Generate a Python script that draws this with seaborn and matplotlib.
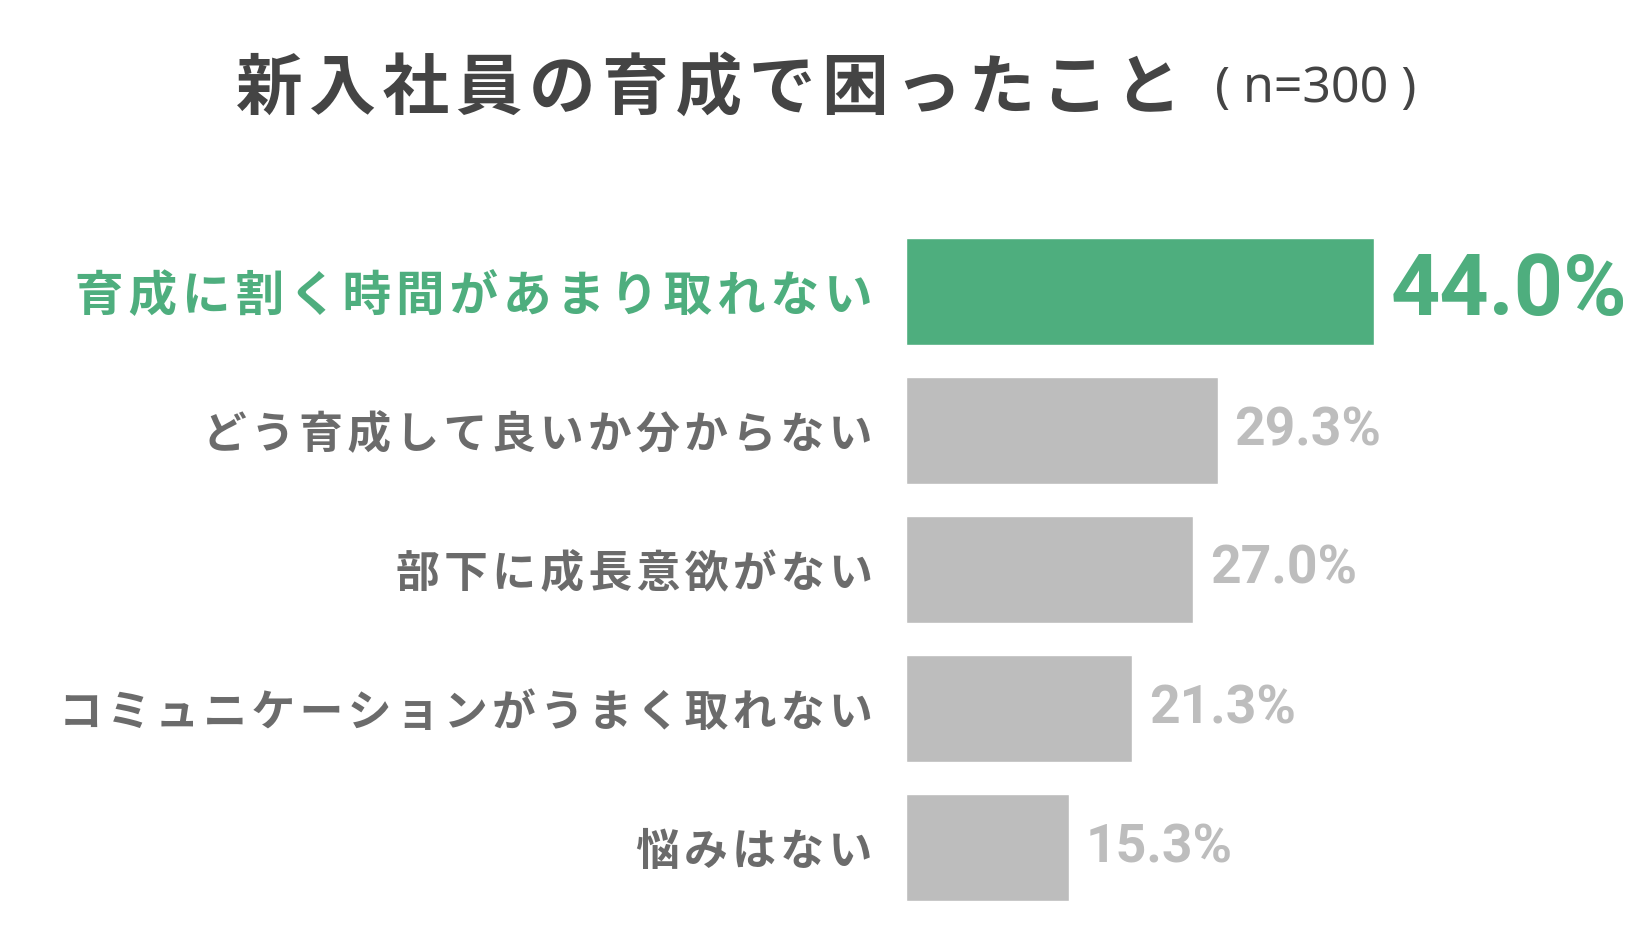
import matplotlib.pyplot as plt
import seaborn as sns
import pandas as pd

# data
categories = [
    "育成に割く時間があまり取れない",
    "どう育成して良いか分からない",
    "部下に成長意欲がない",
    "コミュニケーションがうまく取れない",
    "悩みはない",
]
values = [44.0, 29.3, 27.0, 21.3, 15.3]
title = "新入社員の育成で困ったこと"
subtitle = "( n=300 )"

GREEN = "#4EAE7E"
BAR_GRAY = "#BDBDBD"
VALUE_GRAY = "#BDBDBD"
LABEL_GRAY = "#6B6B6B"
TITLE_GRAY = "#444444"

sns.set_theme(style="white")
plt.rcParams["font.family"] = ["Noto Sans CJK JP", "DejaVu Sans"]

# the CJK font has no hair space -> it falls back to DejaVu Sans
HAIR = "\u200a"


def spaced(s):
    # mimic the letter spacing of the original
    return HAIR.join(s)


df = pd.DataFrame({"label": categories, "value": values})
palette = [GREEN] + [BAR_GRAY] * (len(categories) - 1)

fig = plt.figure(figsize=(16.44, 9.30), dpi=100)
ax = fig.add_axes([906 / 1644, 1 - 917 / 930, 638 / 1644, 695 / 930])

sns.barplot(data=df, y="label", x="value", hue="label", palette=palette,
            order=categories, hue_order=categories, legend=False,
            width=0.77, saturation=1, ax=ax)

ax.set_xlim(0, 60)
ax.set_ylim(len(categories) - 0.5, -0.5)
ax.set_xlabel("")
ax.set_ylabel("")
ax.set_xticks([])
sns.despine(ax=ax, left=True, bottom=True)

# highlighted first label is bigger than the rest
ax.set_yticks(range(len(categories)))
ax.set_yticklabels([spaced(c) for c in categories])
ax.tick_params(axis="y", length=0, pad=24)
for i, tl in enumerate(ax.get_yticklabels()):
    tl.set_fontweight("bold")
    if i == 0:
        tl.set_fontsize(35)
        tl.set_color(GREEN)
    else:
        tl.set_fontsize(31.5)
        tl.set_color(LABEL_GRAY)

for i, v in enumerate(values):
    if i == 0:
        ax.annotate(f"{v:.1f}%", xy=(v, i), xytext=(12, 0), textcoords="offset points",
                    ha="left", va="center", fontsize=62, fontweight="bold",
                    color=GREEN, family="Roboto", annotation_clip=False)
    else:
        ax.annotate(f"{v:.1f}%", xy=(v, i), xytext=(12, 0), textcoords="offset points",
                    ha="left", va="center", fontsize=38.5, fontweight="bold",
                    color=VALUE_GRAY, family="Roboto", annotation_clip=False)

t = fig.text(1182 / 1644, 1 - 89 / 930, spaced(title), ha="right", va="center",
             fontsize=48, fontweight="bold", color=TITLE_GRAY)
ax.annotate(subtitle, xy=(1, 0.5), xycoords=t, xytext=(24, 0), textcoords="offset points",
            ha="left", va="center", fontsize=36, color=TITLE_GRAY,
            family=["Noto Sans", "DejaVu Sans"])

fig.savefig("out.png", dpi=100, facecolor="white")
